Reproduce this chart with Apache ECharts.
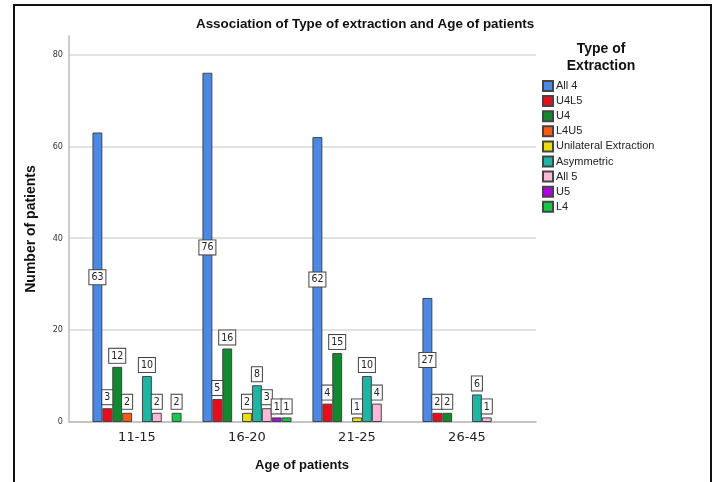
<!DOCTYPE html>
<html>
<head>
<meta charset="utf-8">
<script src="https://cdn.jsdelivr.net/npm/echarts@6/dist/echarts.min.js"></script>
<style>html,body{margin:0;padding:0;background:#fff;}#c{width:714px;height:482px;}</style>
</head>
<body>
<div id="c"></div>
<script>
const categories = ['11-15', '16-20', '21-25', '26-45'];
const seriesNames = ['All 4', 'U4L5', 'U4', 'L4U5', 'Unilateral Extraction', 'Asymmetric', 'All 5', 'U5', 'L4'];
const all4 = [63, 76, 62, 27];
const u4l5 = [3, 5, 4, 2];
const u4 = [12, 16, 15, 2];
const l4u5 = [2, 0, 0, 0];
const unilateral = [0, 2, 1, 0];
const asymmetric = [10, 8, 10, 6];
const all5 = [2, 3, 4, 1];
const u5 = [0, 1, 0, 0];
const l4 = [2, 1, 0, 0];
const yTicks = [0, 20, 40, 60, 80];

const values = [all4, u4l5, u4, l4u5, unilateral, asymmetric, all5, u5, l4];
const colors = ['#4a8ae6', '#ee0a1a', '#0f8a2c', '#ff5a0a', '#e8e000', '#18b8a4', '#ffb8d8', '#b000e8', '#0ccc46'];

const chart = echarts.init(document.getElementById('c'), null, {renderer: 'canvas'});
const labelBox = {
  backgroundColor: '#fff', borderColor: '#444', borderWidth: 1,
  padding: [2, 2, 1, 2], fontSize: 10.5, color: '#222', fontFamily: 'DejaVu Sans Condensed'
};
const series = seriesNames.map((name, i) => ({
  name: name,
  type: 'bar',
  xAxisIndex: 1,
  yAxisIndex: 1,
  barGap: 0,
  barCategoryGap: '19%',
  itemStyle: {color: colors[i], borderColor: '#444', borderWidth: 1},
  label: Object.assign({
    show: true,
    position: i === 0 ? 'inside' : 'top',
    distance: 4
  }, labelBox),
  data: values[i].map(v => v === 0 ? null : v)
}));

chart.setOption({
  animation: false,
  backgroundColor: '#fff',
  title: {
    text: 'Association of Type of extraction and Age of patients',
    left: 191, top: 13,
    textStyle: {fontFamily: 'Liberation Sans', fontWeight: 'bold', fontSize: 13.4, color: '#111'}
  },
  grid: [
    {left: 69, right: 178, top: 36, bottom: 60},
    {left: 82, right: 192, top: 36, bottom: 60}
  ],
  xAxis: [
    {gridIndex: 0, type: 'category', data: categories, axisLine: {show: true, lineStyle: {color: '#bbb', width: 1.5}},
     axisTick: {show: false}, axisLabel: {show: false}, splitLine: {show: false}},
    {gridIndex: 1, type: 'category', data: categories, axisLine: {show: false}, axisTick: {show: false},
     axisLabel: {fontFamily: 'DejaVu Sans', fontSize: 13, color: '#222', margin: 9},
     name: 'Age of patients', nameLocation: 'middle', nameGap: 37,
     nameTextStyle: {fontFamily: 'Liberation Sans', fontWeight: 'bold', fontSize: 13, color: '#111'}}
  ],
  yAxis: [
    {gridIndex: 0, type: 'value', min: 0, max: 84, interval: 20,
     axisLine: {show: true, lineStyle: {color: '#bbb', width: 1.5}}, axisTick: {show: false},
     axisLabel: {fontFamily: 'DejaVu Sans Condensed', fontSize: 9, color: '#333', margin: 6, showMaxLabel: false,
       formatter: v => yTicks.indexOf(v) >= 0 ? String(v) : ''},
     splitLine: {show: true, showMaxLine: false, lineStyle: {color: '#d8d8d8', width: 1.5}},
     name: 'Number of patients', nameLocation: 'middle', nameGap: 31,
     nameTextStyle: {fontFamily: 'Liberation Sans', fontWeight: 'bold', fontSize: 14, color: '#111'}},
    {gridIndex: 1, type: 'value', min: 0, max: 84, interval: 20, show: false, splitLine: {show: false}}
  ],
  legend: {
    orient: 'vertical', left: 537, top: 75,
    itemWidth: 10, itemHeight: 10, itemGap: 3.1,
    icon: 'rect',
    textStyle: {fontFamily: 'Liberation Sans', fontSize: 11, lineHeight: 11, color: '#222', padding: [0, 0, 0, -2]},
    data: seriesNames
  },
  graphic: [
    {type: 'rect', shape: {x: 14, y: 5, width: 697, height: 490}, style: {fill: 'none', stroke: '#111', lineWidth: 2}, silent: true},
    {type: 'text', x: 601, y: 41, style: {text: 'Type of\nExtraction', textAlign: 'center', fontFamily: 'Liberation Sans', fontWeight: 'bold', fontSize: 14, lineHeight: 17, fill: '#111'}}
  ],
  series: series
});
</script>
</body>
</html>
